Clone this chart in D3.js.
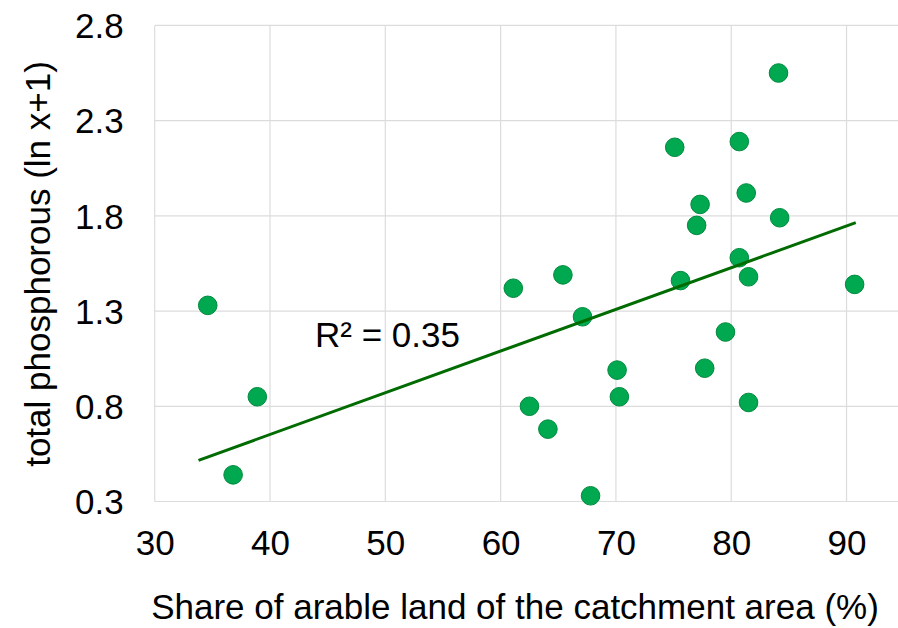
<!DOCTYPE html>
<meta charset="utf-8">
<style>
body { margin: 0; background: #fff; }
svg text { font-family: "Liberation Sans", Arial, sans-serif; fill: #000; }
.grid line { stroke: #dcdcdc; stroke-width: 1.2; }
.axis path, .axis line { display: none; }
</style>
<svg class="chart"></svg>
<script src="https://d3js.org/d3.v7.min.js"></script>
<script>

// arable land share (%) and total phosphorous (ln x+1), one value per catchment
var arable = [34.6, 38.9, 36.8, 61.1, 65.4, 67.1, 62.5, 64.1, 67.8, 70.1, 70.3,
              75.1, 75.6, 77.0, 77.3, 77.7, 79.5, 80.7, 80.7, 81.3, 81.5, 81.5,
              84.1, 84.2, 90.7];
var phosphorous = [1.33, 0.85, 0.44, 1.42, 1.49, 1.27, 0.80, 0.68, 0.33, 0.99, 0.85,
                   2.16, 1.46, 1.75, 1.86, 1.00, 1.19, 2.19, 1.58, 1.92, 1.48, 0.82,
                   2.55, 1.79, 1.44];

var xTicks = [30, 40, 50, 60, 70, 80, 90];
var yTicks = [0.3, 0.8, 1.3, 1.8, 2.3, 2.8];

// linear trend
var trendSlope = 0.0219, trendIntercept = -0.224;
var trendFrom = [33.8, 90.8];
var rSquared = "R² = 0.35";

var W = 898, H = 628;
var fontSize = "35px";
var svg = d3.select(".chart").attr("width", W).attr("height", H);

var x = d3.scaleLinear().domain([30, 95]).range([154.7, 904.2]);
var y = d3.scaleLinear().domain([0.3, 2.8]).range([501.5, 25.4]);

// gridlines
var grid = svg.append("g").attr("class", "grid");
grid.selectAll(".v").data(xTicks).enter().append("line")
  .attr("x1", x).attr("x2", x)
  .attr("y1", y(2.8)).attr("y2", y(0.3));
grid.selectAll(".h").data(yTicks).enter().append("line")
  .attr("x1", x(30)).attr("x2", W)
  .attr("y1", y).attr("y2", y);

// axes (labels only)
var xAxis = svg.append("g").attr("class", "axis")
  .attr("transform", "translate(0," + y(0.3) + ")")
  .call(d3.axisBottom(x).tickValues(xTicks).tickSize(0).tickPadding(0).tickFormat(d3.format("d")));
xAxis.selectAll("text").attr("y", 41).attr("dy", "0.35em").style("font-size", fontSize);

var yAxis = svg.append("g").attr("class", "axis")
  .attr("transform", "translate(" + x(30) + ",0)")
  .call(d3.axisLeft(y).tickValues(yTicks).tickSize(0).tickFormat(d3.format(".1f")));
yAxis.selectAll("text").attr("x", -31).attr("dy", "0.35em").style("font-size", fontSize);
svg.selectAll(".axis").attr("font-family", null).attr("font-size", null);

// points
svg.append("g").selectAll("circle")
  .data(arable.map(function(d, i) { return [d, phosphorous[i]]; }))
  .enter().append("circle")
  .attr("cx", function(d) { return x(d[0]); })
  .attr("cy", function(d) { return y(d[1]); })
  .attr("r", 9.3)
  .attr("fill", "#00a84f")
  .attr("stroke", "#008a3e")
  .attr("stroke-width", 1);

// trend line
svg.append("line")
  .attr("x1", x(trendFrom[0])).attr("y1", y(trendIntercept + trendSlope * trendFrom[0]))
  .attr("x2", x(trendFrom[1])).attr("y2", y(trendIntercept + trendSlope * trendFrom[1]))
  .attr("stroke", "#006b00").attr("stroke-width", 3);

svg.append("text")
  .attr("x", 315).attr("y", 347)
  .style("font-size", fontSize)
  .text(rSquared);

// axis titles
svg.append("text")
  .attr("x", 515).attr("y", 619)
  .attr("text-anchor", "middle")
  .style("font-size", fontSize)
  .text("Share of arable land of the catchment area (%)");

svg.append("text")
  .attr("transform", "translate(50,264) rotate(-90)")
  .attr("text-anchor", "middle")
  .style("font-size", fontSize)
  .text("total phosphorous (ln x+1)");

</script>
